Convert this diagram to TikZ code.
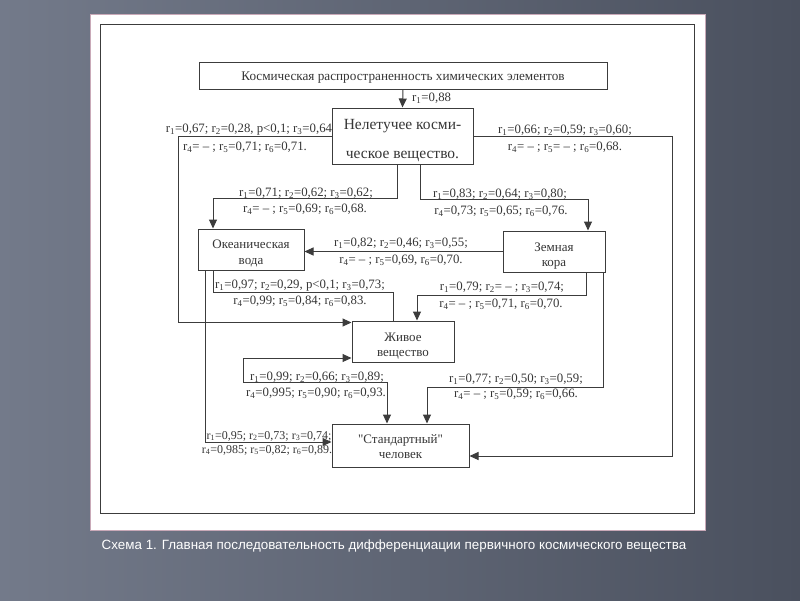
\documentclass[tikz,border=0pt]{standalone}
\usepackage{fontspec}
\setmainfont{Liberation Serif}
\newfontfamily\capfont{Liberation Sans}
\newfontfamily\nomap{Liberation Serif}[Ligatures=ResetAll]
\usetikzlibrary{arrows.meta}
\newcommand\rs[1]{r\textsubscript{#1}}
\definecolor{lnc}{HTML}{3C3C3C}
\definecolor{txc}{HTML}{363636}
\definecolor{bgl}{HTML}{737A8A}
\definecolor{bgr}{HTML}{4A505E}
\definecolor{panedge}{HTML}{C9A9B8}
\begin{document}
\begin{tikzpicture}[x=1pt,y=-1pt,
  box/.style={draw=lnc, line width=1pt, inner sep=0pt, align=center, text=txc},
  lbl/.style={inner sep=0pt, text=txc, font=\fontsize{12.8}{14}\selectfont},
  conn/.style={draw=lnc, line width=1pt},
  arr/.style={conn, -{Triangle[length=9pt,width=8pt]}},
  darr/.style={conn, {Triangle[length=9pt,width=8pt]}-{Triangle[length=9pt,width=8pt]}}]
\useasboundingbox (0,0) rectangle (800,600);
\shade[left color=bgl, right color=bgr] (0,0) rectangle (800,600);
\fill[white] (90,14) rectangle (705,530);
\draw[panedge, line width=0.6pt] (90,14) rectangle (705,530);
\draw[lnc, line width=0.9pt] (100,24) rectangle (694,513);

% boxes
\node[box, minimum width=408pt, minimum height=27pt, font=\fontsize{13.2}{16}\selectfont] (top) at (403,75.5) {\rule{0pt}{13pt}Космическая распространенность химических элементов};
\node[box, minimum width=141pt, minimum height=56pt, font=\fontsize{15.5}{29}\selectfont] (nv) at (402.5,136) {\rule{0pt}{19pt}Нелетучее косми-\\ческое вещество.};
\node[box, minimum width=106pt, minimum height=41pt, font=\fontsize{13}{16}\selectfont] (ocean) at (251,249.5) {\rule{0pt}{17pt}Океаническая\\вода};
\node[box, minimum width=102pt, minimum height=41pt, font=\fontsize{13}{15}\selectfont] (earth) at (554,251.5) {\rule{0pt}{18pt}Земная\\кора};
\node[box, minimum width=102pt, minimum height=41pt, font=\fontsize{13}{15}\selectfont] (living) at (403,341.5) {\rule{0pt}{18pt}Живое\\вещество};
\node[box, minimum width=137pt, minimum height=43pt, font=\nomap\fontsize{13}{15}\selectfont] (std) at (400.5,445.5) {\rule{0pt}{11pt}"Стандартный"\\человек};

% connectors
\draw[arr] (top.south) -- (nv.north);
\draw[arr] (nv.west) -- ++(-153.5,0) |- ([yshift=-2pt]living.north west);
\draw[arr] (nv.east) -- ++(199,0) |- ([yshift=-10.5pt]std.east);
\draw[arr] ([xshift=-5.5pt]nv.south) -- ++(0,34) -| ([xshift=-38pt]ocean.north);
\draw[arr] ([xshift=18pt]nv.south) -- ++(0,35) -| ([xshift=34pt]earth.north);
\draw[arr] (earth.west) -- (earth.west -| ocean.east);
\draw[conn] ([xshift=-38pt]ocean.south) -- ++(0,22) -| ([xshift=-10pt]living.north);
\draw[arr] ([xshift=32pt]earth.south) -- ++(0,23) -| ([xshift=14pt]living.north);
\draw[arr] ([xshift=-46pt]ocean.south) |- ([yshift=3.5pt]std.west);
\draw[darr] ([xshift=-13.5pt]std.north) |- ++(-144,-41) |- ([yshift=-16.5pt]living.west);
\draw[arr] ([xshift=49pt]earth.south) -- ++(0,115) -| ([xshift=26.5pt]std.north);

% labels
\node[lbl, anchor=west] (l0) at (412,98) {\rs{1}=0,88};
\node[lbl] (l1a) at (249,130) {\rs{1}=0,67; \rs{2}=0,28, p<0,1; \rs{3}=0,64};
\node[lbl] (l1b) at (245,147) {\rs{4}= -- ; \rs{5}=0,71; \rs{6}=0,71.};
\node[lbl] (l2a) at (565,130) {\rs{1}=0,66; \rs{2}=0,59; \rs{3}=0,60;};
\node[lbl] (l2b) at (565,147) {\rs{4}= -- ; \rs{5}= -- ; \rs{6}=0,68.};
\node[lbl] (l3a) at (306,193) {\rs{1}=0,71; \rs{2}=0,62; \rs{3}=0,62;};
\node[lbl] (l3b) at (305,209) {\rs{4}= -- ; \rs{5}=0,69; \rs{6}=0,68.};
\node[lbl] (l4a) at (500,194) {\rs{1}=0,83; \rs{2}=0,64; \rs{3}=0,80;};
\node[lbl] (l4b) at (501,211) {\rs{4}=0,73; \rs{5}=0,65; \rs{6}=0,76.};
\node[lbl] (l5a) at (401,243) {\rs{1}=0,82; \rs{2}=0,46; \rs{3}=0,55;};
\node[lbl] (l5b) at (401,260) {\rs{4}= -- ; \rs{5}=0,69, \rs{6}=0,70.};
\node[lbl] (l6a) at (300,286) {\rs{1}=0,97; \rs{2}=0,29, p<0,1; \rs{3}=0,73;};
\node[lbl] (l6b) at (300,301) {\rs{4}=0,99; \rs{5}=0,84; \rs{6}=0,83.};
\node[lbl] (l7a) at (502,287) {\rs{1}=0,79; \rs{2}= -- ; \rs{3}=0,74;};
\node[lbl] (l7b) at (501,304) {\rs{4}= -- ; \rs{5}=0,71, \rs{6}=0,70.};
\node[lbl] (l8a) at (317,377) {\rs{1}=0,99; \rs{2}=0,66; \rs{3}=0,89;};
\node[lbl] (l8b) at (316,393) {\rs{4}=0,995; \rs{5}=0,90; \rs{6}=0,93.};
\node[lbl] (l9a) at (516,379) {\rs{1}=0,77; \rs{2}=0,50; \rs{3}=0,59;};
\node[lbl] (l9b) at (516,394) {\rs{4}= -- ; \rs{5}=0,59; \rs{6}=0,66.};
\node[lbl, font=\fontsize{12}{14}\selectfont] (l10a) at (269,436) {\rs{1}=0,95; \rs{2}=0,73; \rs{3}=0,74;};
\node[lbl, font=\fontsize{12}{14}\selectfont] (l10b) at (267,450) {\rs{4}=0,985; \rs{5}=0,82; \rs{6}=0,89.};

% caption
\node[inner sep=0pt, text=white, font=\capfont\fontsize{13.4}{15}\selectfont] (cap) at (394,546) {Схема 1. Главная последовательность дифференциации первичного космического вещества};
\end{tikzpicture}
\end{document}
